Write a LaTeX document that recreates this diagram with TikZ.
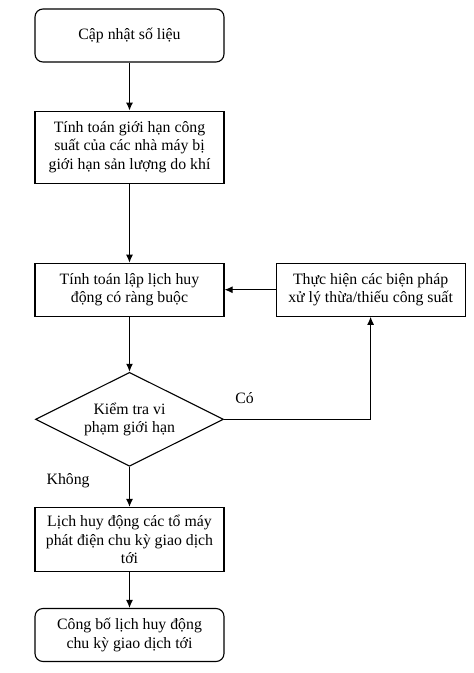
\documentclass[tikz,border=0pt]{standalone}
\usepackage{fontspec}
\setmainfont{Liberation Serif}
\usepackage{tikz}
\usetikzlibrary{arrows.meta,positioning,shapes.geometric}
\definecolor{inkblack}{RGB}{0,0,0}
\begin{document}
\begin{tikzpicture}[
  node distance=48pt and 51pt,
  box/.style={draw=inkblack, line width=1.1pt, rectangle, minimum width=189pt, minimum height=53pt, align=center, font=\fontsize{15.8}{18.2}\selectfont},
  rbox/.style={box, rounded corners=8pt},
  dec/.style={draw=inkblack, line width=1.1pt, diamond, aspect=2, inner sep=0pt, minimum width=188pt, minimum height=94pt, align=center, font=\fontsize{15.8}{18.2}\selectfont},
  lab/.style={font=\fontsize{15.8}{18.2}\selectfont},
  arr/.style={-{Latex[length=8pt,width=7pt]}, line width=1.1pt}
]
\useasboundingbox (0,0) rectangle (474pt,-673pt);
\node[rbox] (n0) at (129.5pt,-35.5pt) {Cập nhật số liệu};
\node[box, below=48pt of n0, minimum height=72pt] (n1) {Tính toán giới hạn công\\suất của các nhà máy bị\\giới hạn sản lượng do khí};
\node[box, below=79pt of n1] (n2) {Tính toán lập lịch huy\\động có ràng buộc};
\node[box, right=51pt of n2] (n3) {Thực hiện các biện pháp\\xử lý thừa/thiếu công suất};
\node[dec, below=55pt of n2] (n4) {Kiểm tra vi\\phạm giới hạn};
\node[box, below=40pt of n4, minimum height=64pt] (n5) {Lịch huy động các tổ máy\\phát điện chu kỳ giao dịch\\tới};
\node[rbox, below=36pt of n5] (n6) {Công bố lịch huy động\\chu kỳ giao dịch tới};
\draw[arr] (n0) -- (n1); \draw[arr] (n1) -- (n2); \draw[arr] (n3) -- (n2); \draw[arr] (n2) -- (n4);
\draw[arr] (n4) -| node[lab, pos=0.07, above=12pt] {Có} (n3);
\draw[arr] (n4) -- node[lab, pos=0.35, left=36pt] {Không} (n5);
\draw[arr] (n5) -- (n6);
\end{tikzpicture}
\end{document}
